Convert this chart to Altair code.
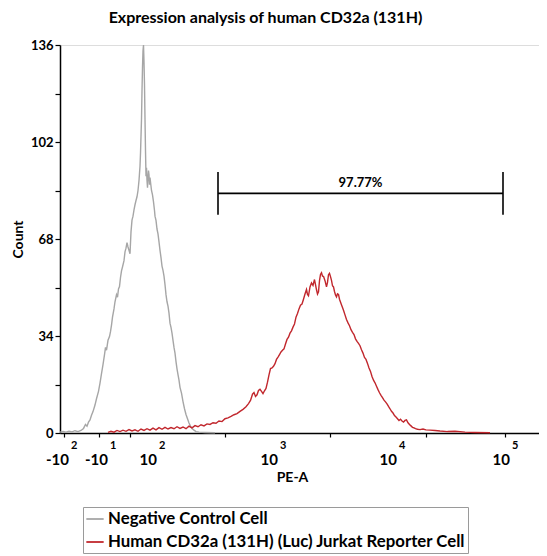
import math
import altair as alt
import pandas as pd

# ---------------- data (display channel scale) ----------------
neg_channel = [0, 6, 12, 18, 24, 30, 36, 42, 47, 51, 54, 57, 60, 63, 66, 70, 73, 77, 80, 83,
               86, 89, 91, 93, 96, 99, 101, 103, 105, 108, 110, 113, 115, 117, 119, 121, 123,
               125, 128, 130, 132, 134, 136, 138, 140, 142, 144, 146, 148, 150, 152, 154, 156,
               158, 159, 160, 161, 162, 163, 164, 165, 166, 167, 168, 169, 170, 171, 172, 173,
               174, 175, 176, 177, 178, 179, 180, 182, 183, 185, 187, 189, 190, 192, 194, 196,
               198, 200, 202, 204, 206, 208, 210, 212, 214, 216, 218, 220, 222, 224, 226, 228,
               230, 232, 234, 236, 238, 240, 243, 246, 249, 252, 255, 258, 261, 264, 268, 272,
               278, 290, 310]
neg_count = [0.3, 0.5, 0.3, 0.6, 0.4, 0.8, 0.5, 0.9, 1.6, 3.0, 2.4, 3.8, 4.6, 6.2, 7.5, 9.8,
             12.0, 14.6, 17.5, 20.8, 24.0, 27.5, 30.0, 29.0, 32.5, 33.8, 35.5, 37.8, 40.6, 43.5,
             46.0, 48.5, 47.6, 50.5, 51.3, 54.5, 56.8, 58.2, 60.4, 63.5, 64.8, 66.7, 65.2, 64.0,
             62.8, 70.5, 74.6, 76.0, 78.2, 80.0, 81.5, 82.8, 85.0, 88.5, 91.0, 93.5, 98.0, 104.0,
             110.0, 120.0, 128.0, 134.0, 136.0, 130.0, 122.0, 110.0, 99.0, 90.0, 93.0, 88.5,
             86.0, 89.5, 92.0, 90.5, 87.0, 89.5, 86.5, 85.0, 83.5, 81.0, 78.0, 76.0, 74.5, 71.5,
             69.8, 67.0, 64.0, 61.5, 58.5, 57.0, 55.0, 52.0, 48.5, 46.0, 44.5, 42.0, 38.5, 37.0,
             35.0, 32.5, 30.0, 28.0, 25.0, 22.5, 20.5, 18.5, 16.0, 14.0, 11.0, 8.5, 6.5, 5.0,
             3.5, 2.4, 1.6, 1.0, 0.5, 0.3, 0.2, 0.1]

pos_channel = [96, 102, 108, 114, 120, 126, 132, 138, 144, 150, 156, 162, 168, 174, 180, 186,
               192, 198, 204, 210, 216, 222, 228, 234, 240, 246, 252, 258, 264, 270, 276, 282,
               288, 294, 300, 306, 312, 318, 324, 330, 336, 342, 348, 354, 360, 366, 372, 377,
               381, 385, 388, 391, 394, 397, 400, 403, 406, 409, 412, 415, 418, 421, 424, 427,
               430, 433, 436, 439, 442, 445, 448, 451, 454, 457, 460, 463, 466, 469, 472, 475,
               478, 481, 484, 487, 490, 493, 495, 497, 500, 503, 506, 509, 511, 513, 515, 517,
               519, 521, 523, 525, 527, 530, 533, 535, 537, 539, 541, 543, 545, 547, 549, 551,
               553, 555, 557, 559, 562, 565, 567, 570, 573, 576, 579, 582, 585, 588, 591, 594,
               597, 600, 603, 606, 609, 612, 615, 618, 621, 624, 627, 630, 633, 636, 639, 642,
               645, 648, 651, 654, 657, 660, 663, 666, 669, 672, 675, 678, 681, 684, 687, 690,
               693, 696, 699, 702, 705, 708, 711, 715, 720, 726, 732, 740, 750, 760, 775, 790,
               810, 830, 860]
pos_count = [0.2, 0.6, 0.3, 0.9, 0.5, 1.0, 0.6, 1.2, 0.7, 1.1, 0.6, 1.4, 0.9, 1.5, 1.0, 1.7,
             1.1, 1.9, 1.3, 2.0, 1.4, 1.9, 1.5, 2.2, 1.6, 2.1, 1.5, 2.4, 1.8, 2.6, 2.2, 2.9,
             2.5, 3.2, 3.0, 3.6, 3.4, 4.2, 4.0, 5.0, 5.3, 5.8, 6.4, 6.8, 7.6, 8.3, 9.2, 10.3,
             11.4, 13.6, 14.2, 12.8, 13.4, 14.9, 15.3, 14.6, 13.8, 14.8, 15.6, 17.8, 20.4, 22.6,
             22.8, 23.4, 24.3, 25.8, 26.6, 27.5, 28.4, 29.0, 29.5, 31.2, 32.8, 33.6, 35.0, 35.8,
             37.1, 38.2, 40.6, 41.9, 43.5, 44.8, 45.2, 46.9, 48.7, 50.3, 48.6, 48.1, 51.2, 52.6,
             51.7, 53.8, 52.0, 50.2, 48.7, 49.5, 53.4, 55.6, 56.2, 55.0, 54.9, 53.4, 51.2, 52.8,
             55.5, 56.0, 54.8, 53.5, 51.6, 51.2, 49.6, 48.4, 47.7, 48.8, 48.6, 46.9, 45.4, 44.0,
             43.0, 41.4, 39.8, 38.6, 37.6, 36.2, 35.3, 34.5, 33.0, 32.1, 31.4, 30.6, 29.2, 28.0,
             26.5, 25.8, 24.4, 22.8, 21.6, 19.8, 18.5, 17.6, 16.4, 15.2, 14.1, 13.2, 12.4, 11.5,
             10.9, 10.2, 9.3, 8.5, 7.6, 7.0, 6.1, 5.6, 5.0, 4.4, 4.8, 4.2, 3.8, 4.4, 4.6, 3.6,
             3.0, 2.5, 2.0, 1.8, 1.5, 1.3, 1.2, 1.4, 1.1, 1.0, 0.9, 0.7, 0.5, 0.6, 0.3, 0.2, 0.1]

series_names = ["Negative Control Cell", "Human CD32a (131H) (Luc) Jurkat Reporter Cell"]
series_colors = ["#a6a6a6", "#c1272d"]

# x axis: biexponential display, labelled decades at these channels
major_channels = [8, 86, 184, 426, 664, 890]
major_base = ["-10", "-10", "10", "10", "10", "10"]
major_exp = ["2", "1", "2", "3", "4", "5"]

gate_start = 316
gate_end = 886
gate_level = 84
gate_half = 7.5
gate_label = "97.77%"

# ---------------- build tables ----------------
df = pd.concat([
    pd.DataFrame({"channel": neg_channel, "count": neg_count, "series": series_names[0]}),
    pd.DataFrame({"channel": pos_channel, "count": pos_count, "series": series_names[1]}),
])

# minor ticks of the display axis
minor = [round(8 + i * 8.8, 1) for i in range(21)]
for a, b in zip(major_channels[2:], major_channels[3:] + [major_channels[-1] + 226]):
    for k in [2, 3, 4, 5, 6, 7, 8, 9]:
        v = round(a + math.log10(k) * (b - a), 1)
        if v <= 958:
            minor.append(v)
tick_values = sorted(set(minor + major_channels))

y_ticks = [i * 8.5 for i in range(17)]

W, H = 479, 388
FONT = "Lato"

xscale = alt.Scale(domain=[0, 958], nice=False, zero=False)
yscale = alt.Scale(domain=[0, 136], nice=False)

lines = alt.Chart(df).mark_line(strokeWidth=1.4).encode(
    x=alt.X("channel:Q", scale=xscale, title="PE-A",
            axis=alt.Axis(values=tick_values, labels=False,
                          tickSize=4, tickColor="black", tickWidth=1.2, domainColor="black",
                          domainWidth=1.5, grid=False, titleFont=FONT, titleFontSize=14,
                          titleFontWeight="bold", titlePadding=33, titleColor="black",
                          titleX=232)),
    y=alt.Y("count:Q", scale=yscale, title="Count",
            axis=alt.Axis(values=y_ticks,
                          labelExpr="datum.value % 34 == 0 ? datum.value : ''",
                          labelOverlap=False, labelFontSize=13, labelFont=FONT,
                          labelFontWeight="bold", labelColor="black", labelPadding=2,
                          tickSize=5, tickColor="black", tickWidth=1.2, domainColor="black",
                          domainWidth=1.5, grid=False, titleFont=FONT, titleFontSize=14,
                          titleFontWeight="bold", titleColor="black", titlePadding=5)),
    color=alt.Color("series:N", scale=alt.Scale(domain=series_names, range=series_colors),
                    sort=series_names,
                    legend=alt.Legend(orient="none", legendX=23, legendY=462, title=None,
                                      symbolType="stroke", symbolSize=300, symbolStrokeWidth=1.8,
                                      labelFont=FONT, labelFontWeight="bold", labelFontSize=16.8,
                                      labelColor="black", strokeColor="#9a9a9a", padding=2,
                                      rowPadding=4, labelOffset=3, fillColor="white",
                                      labelLimit=500)),
)

gate_df = pd.DataFrame({"x1": [gate_start], "x2": [gate_end], "y": [gate_level],
                        "mid": [(gate_start + gate_end) / 2], "label": [gate_label]})
ends_df = pd.DataFrame({"x": [gate_start, gate_end],
                        "lo": [gate_level - gate_half] * 2, "hi": [gate_level + gate_half] * 2})

gate_h = alt.Chart(gate_df).mark_rule(color="black", strokeWidth=1.6).encode(
    x=alt.X("x1:Q", scale=xscale), x2="x2:Q", y=alt.Y("y:Q", scale=yscale))
gate_v = alt.Chart(ends_df).mark_rule(color="black", strokeWidth=1.6).encode(
    x=alt.X("x:Q", scale=xscale), y=alt.Y("lo:Q", scale=yscale), y2="hi:Q")
gate_t = alt.Chart(gate_df).mark_text(font=FONT, fontWeight="bold", fontSize=13,
                                      baseline="bottom", dy=-3, color="black").encode(
    x=alt.X("mid:Q", scale=xscale), y=alt.Y("y:Q", scale=yscale), text="label:N")

lab_df = pd.DataFrame({"channel": major_channels, "base": major_base, "exp": major_exp})
bases = alt.Chart(lab_df).mark_text(font=FONT, fontWeight="bold", fontSize=15, align="right",
                                    baseline="middle", dx=5, color="black").encode(
    x=alt.X("channel:Q", scale=xscale), y=alt.value(H + 27), text="base:N")
sups = alt.Chart(lab_df).mark_text(font=FONT, fontWeight="bold", fontSize=11, align="left",
                                   baseline="middle", dx=7, color="black").encode(
    x=alt.X("channel:Q", scale=xscale), y=alt.value(H + 13), text="exp:N")

chart = alt.layer(lines, gate_h, gate_v, gate_t, bases, sups).properties(
    width=W, height=H,
    title=alt.TitleParams("Expression analysis of human CD32a (131H)", font=FONT, fontSize=16,
                          fontWeight="bold", anchor="middle", dx=-34, color="black", offset=13),
    autosize=alt.AutoSizeParams(type="none"),
    padding={"left": 52, "top": 37, "right": 0, "bottom": 133},
).configure_view(stroke=None).configure(background="white")

chart.save("out.html", embed_options={"renderer": "svg", "actions": False})
